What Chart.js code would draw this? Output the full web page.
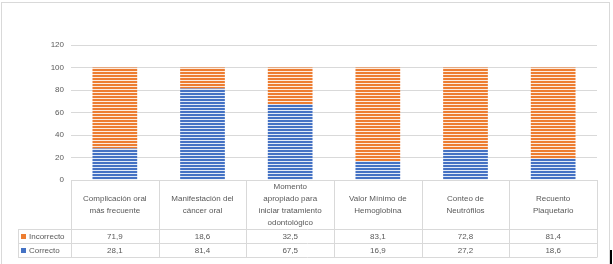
<!DOCTYPE html>
<html>
<head>
<meta charset="utf-8">
<script src="https://cdn.jsdelivr.net/npm/chart.js@4/dist/chart.umd.min.js"></script>
<style>
  html, body { margin: 0; background: #fff; }
  #wrap { position: relative; width: 613px; height: 264px; }
</style>
</head>
<body>
<div id="wrap"><canvas id="chart"></canvas></div>
<script>
// categorias (lineas del texto en la tabla)
const categories = [
  ["Complicación oral", "más frecuente"],
  ["Manifestación del", "cáncer oral"],
  ["Momento", "apropiado para", "iniciar tratamiento", "odontológico"],
  ["Valor Mínimo de", "Hemoglobina"],
  ["Conteo de", "Neutrófilos"],
  ["Recuento", "Plaquetario"]
];
const correcto = [28.1, 81.4, 67.5, 16.9, 27.2, 18.6];
const incorrecto = [71.9, 18.6, 32.5, 83.1, 72.8, 81.4];
const yTicks = [0, 20, 40, 60, 80, 100, 120];

const BLUE = "#4472C4";
const ORANGE = "#ED7D31";
const FONT = "8px 'Liberation Sans', Arial, sans-serif";
const TXT = "#595959";
const LINE = "#d9d9d9";

// patron de rayas horizontales
function stripes(color) {
  const c = document.createElement("canvas");
  c.width = 4; c.height = 3;
  const g = c.getContext("2d");
  g.fillStyle = color;
  g.fillRect(0, 0, 4, 3);
  g.fillStyle = "rgba(255,255,255,0.85)";
  g.fillRect(0, 2, 4, 1);
  return g.createPattern(c, "repeat");
}

const fmt = (v) => v.toFixed(1).replace(".", ",");

// tabla de datos debajo del grafico
const dataTable = {
  id: "dataTable",
  afterDraw(chart) {
    const ctx = chart.ctx;
    const area = chart.chartArea;
    const left = area.left, right = area.right;
    const top = area.bottom;
    const r1 = 229, r2 = 243, r3 = 257;
    const legendX = 18;
    const w = (right - left) / categories.length;

    ctx.save();
    ctx.strokeStyle = LINE;
    ctx.lineWidth = 1;
    ctx.beginPath();
    // horizontales
    ctx.moveTo(legendX, r1 + 0.5); ctx.lineTo(right, r1 + 0.5);
    ctx.moveTo(legendX, r2 + 0.5); ctx.lineTo(right, r2 + 0.5);
    ctx.moveTo(legendX, r3 + 0.5); ctx.lineTo(right, r3 + 0.5);
    // verticales
    for (let i = 0; i <= categories.length; i++) {
      const x = Math.round(left + i * w) + 0.5;
      ctx.moveTo(x, top); ctx.lineTo(x, r3 + 0.5);
    }
    ctx.moveTo(legendX + 0.5, r1); ctx.lineTo(legendX + 0.5, r3 + 0.5);
    ctx.stroke();

    ctx.font = FONT;
    ctx.fillStyle = TXT;
    ctx.textAlign = "center";
    ctx.textBaseline = "middle";
    categories.forEach((lines, i) => {
      const cx = chart.scales.x.getPixelForValue(i);
      const lh = 12;
      const y0 = (top + r1) / 2 - (lines.length - 1) * lh / 2;
      lines.forEach((t, k) => ctx.fillText(t, cx, y0 + k * lh));
      ctx.fillText(fmt(incorrecto[i]), cx, (r1 + r2) / 2 + 1);
      ctx.fillText(fmt(correcto[i]), cx, (r2 + r3) / 2 + 1);
    });

    // leyenda
    ctx.textAlign = "left";
    ctx.fillStyle = ORANGE;
    ctx.fillRect(21, 234, 5, 5);
    ctx.fillStyle = BLUE;
    ctx.fillRect(21, 248, 5, 5);
    ctx.fillStyle = TXT;
    ctx.fillText("Incorrecto", 29, (r1 + r2) / 2 + 1);
    ctx.fillText("Correcto", 29, (r2 + r3) / 2 + 1);

    // marco
    ctx.strokeStyle = "#d9d9d9";
    ctx.strokeRect(1.5, 2.5, 608, 270);
    ctx.fillStyle = "#000";
    ctx.fillRect(610, 250, 2, 14);
    ctx.restore();
  }
};

new Chart(document.getElementById("chart"), {
  type: "bar",
  data: {
    labels: categories.map((c) => c.join(" ")),
    datasets: [
      {
        label: "Correcto",
        data: correcto,
        backgroundColor: stripes(BLUE),
        borderWidth: 0,
        categoryPercentage: 1,
        barPercentage: 0.51
      },
      {
        label: "Incorrecto",
        data: incorrecto,
        backgroundColor: stripes(ORANGE),
        borderWidth: 0,
        categoryPercentage: 1,
        barPercentage: 0.51
      }
    ]
  },
  options: {
    responsive: true,
    maintainAspectRatio: false,
    animation: false,
    layout: {
      padding: { left: 0, right: 16, top: 45, bottom: 84 }
    },
    plugins: {
      legend: { display: false },
      tooltip: { enabled: false }
    },
    scales: {
      x: {
        stacked: true,
        display: false
      },
      y: {
        stacked: true,
        min: 0,
        max: 120,
        afterBuildTicks: (scale) => {
          scale.ticks = yTicks.map((v) => ({ value: v }));
        },
        afterFit: (scale) => { scale.width = 71; },
        ticks: {
          padding: 7,
          color: TXT,
          font: { family: "'Liberation Sans', Arial, sans-serif", size: 8 }
        },
        grid: { color: LINE, drawTicks: false },
        border: { display: false }
      }
    }
  },
  plugins: [dataTable]
});
</script>
</body>
</html>
